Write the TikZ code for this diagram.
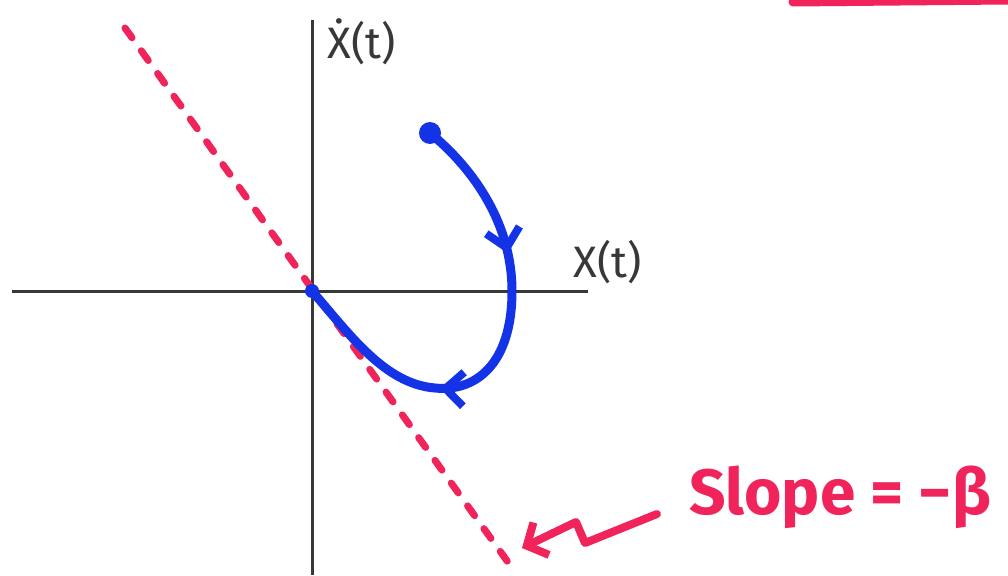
\documentclass[tikz,border=0pt]{standalone}
\usepackage{fontspec}
\setmainfont{Fira Sans}
\usetikzlibrary{arrows.meta,decorations.markings}
\definecolor{penred}{HTML}{F0245A}
\definecolor{penblue}{HTML}{1432E6}
\definecolor{axisgray}{HTML}{383838}
\begin{document}
\begin{tikzpicture}[x=1pt,y=-1pt,
  axisline/.style={draw=axisgray,line width=3pt},
  slopeline/.style={draw=penred,line width=7pt,line cap=round,dash pattern=on 12pt off 16pt},
  traj/.style={draw=penblue,line width=9pt,line cap=round},
  lbl/.style={font=\fontsize{44}{46}\selectfont,text=axisgray,inner sep=0pt},
  redlbl/.style={font=\fontsize{64}{66}\selectfont\bfseries,text=penred,inner sep=0pt}]
\useasboundingbox (0,0) rectangle (1008,575);
\fill[white] (0,0) rectangle (1008,575);
% axes
\coordinate (xl) at (12,291);
\coordinate (xr) at (588,291);
\coordinate (yt) at (312,20);
\coordinate (yb) at (312,575);
\draw[axisline] (xl) -- (xr);
\draw[axisline] (yt) -- (yb);
% slope line
\coordinate (s1) at (125,28);
\coordinate (s2) at (515,572);
\draw[slopeline] (s1) -- (s2);
% trajectory
\coordinate (start) at (430,133);
\coordinate (origin) at (312,291);
\draw[traj,postaction={decorate},decoration={markings,
   mark=at position 0.30 with {\arrow[penblue]{Straight Barb[length=18pt,width=34pt,line width=8pt]}},
   mark=at position 0.66 with {\arrow[penblue]{Straight Barb[length=18pt,width=34pt,line width=8pt]}}}]
  (start) .. controls (475,170) and (512,225) .. (512,291)
  .. controls (512,365) and (475,392) .. (435,388)
  .. controls (385,384) and (350,335) .. (origin);
\fill[penblue] (start) circle (11pt);
\fill[penblue] (origin) circle (7pt);
% labels
\node[lbl] (xdot) at (362,42) {\.{X}(t)};
\node[lbl] (xt) at (608,262) {X(t)};
\node[redlbl] (slope) at (840,497) {Slope = −β};
% squiggle pointer
\coordinate (q0) at (657,514);
\coordinate (q1) at (585,543);
\coordinate (q2) at (576,522);
\coordinate (q3) at (522,548);
\draw[draw=penred,line width=8pt,line cap=round,line join=round,
  -{Straight Barb[length=16pt,width=36pt,line width=8pt]}]
  (q0) -- (q1) -- (q2) -- (q3);
% fragment of red stroke at top right
\coordinate (t0) at (793,2);
\coordinate (t1) at (1008,0);
\draw[draw=penred,line width=9pt,line cap=round] (t0) -- (t1);
\end{tikzpicture}
\end{document}
